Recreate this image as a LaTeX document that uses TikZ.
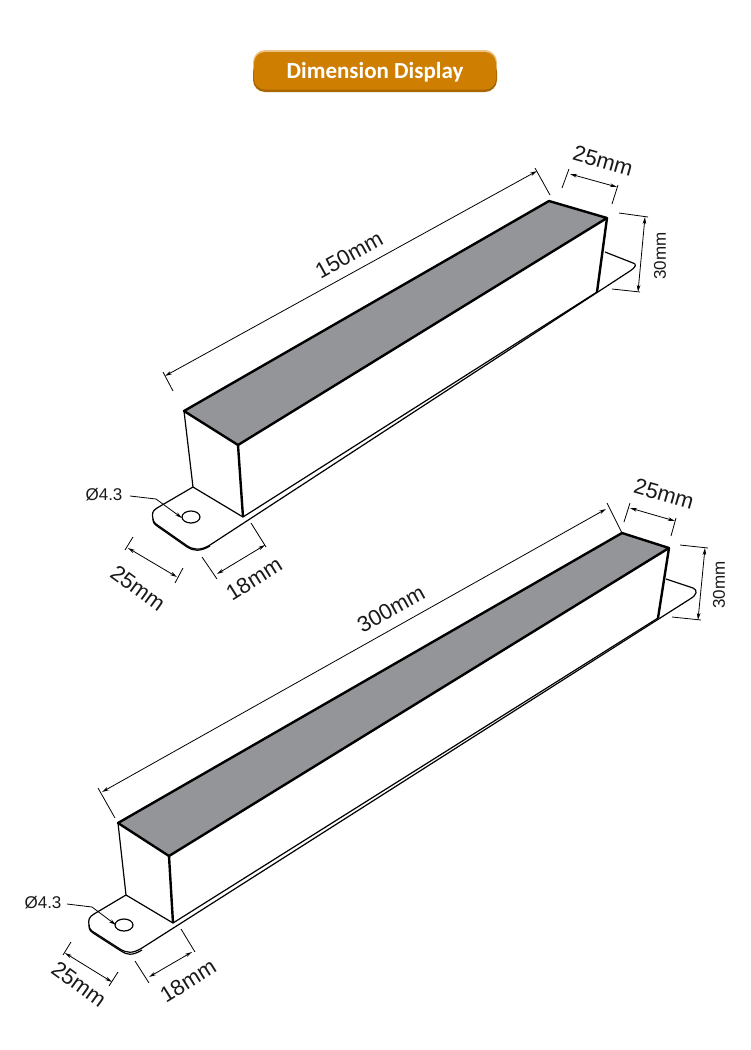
\documentclass[tikz,border=0pt]{standalone}
\usepackage{fontspec}
\setmainfont{Liberation Sans}
\newfontfamily\titlefont{Carlito}
\usetikzlibrary{arrows.meta}
\definecolor{btnfill}{HTML}{CE7E00}
\definecolor{btndark}{HTML}{A96700}
\definecolor{btnlight}{HTML}{EBC485}
\definecolor{topgrey}{HTML}{949598}
\tikzset{
  edge/.style={line width=1.2pt,line join=round},
  heavy/.style={line width=2.4pt,line join=round},
  dimline/.style={line width=0.8pt},
  dimarrow/.style={line width=0.8pt,{Stealth[length=7pt,width=3.6pt]}-{Stealth[length=7pt,width=3.6pt]}},
  dimtext/.style={inner sep=0pt,font=\fontsize{22}{23}\selectfont,text=black!90},
  smalltext/.style={inner sep=0pt,font=\fontsize{17}{18}\selectfont,text=black!90}
}
\begin{document}
\begin{tikzpicture}[x=1pt,y=-1pt]
\useasboundingbox (0,0) rectangle (750,1050);
% Title
\fill[btnlight,rounded corners=12pt] (253,50) rectangle (497,80);
\fill[btndark,rounded corners=12pt] (253,60) rectangle (497,92);
\fill[btnfill,rounded corners=11pt] (254,52) rectangle (496,89.5);
\node[inner sep=0pt,text=white] (title) at (375,72.5) {\titlefont\fontsize{23}{24}\selectfont\bfseries Dimension Display};
% Lamp 150
\fill[topgrey] (184,411) -- (549,201) -- (607,218) -- (238,445) -- cycle;
\draw[heavy] (238,445) -- (184,411) -- (549,201) -- (607,218) -- cycle;
\draw[heavy] (238,445) -- (243,517);
\draw[heavy] (607,218) -- (597,292);
\draw[edge] (184,411) -- (193,487) -- (243,517) -- (597,292);
\draw[edge] (193,487) -- (157,508) .. controls (152,511) and (152,514) .. (153,519)
  .. controls (153,521) and (154,522) .. (156,524) -- (186,545)
  .. controls (193,550) and (200,551) .. (210,545) -- (630,271)
  .. controls (636,267) and (637,264) .. (633,263) -- (605,252);
\draw[edge] (153,519) .. controls (153,523) and (155,525) .. (157,526) -- (187,547)
  .. controls (193,551) and (200,552) .. (210,546);
\draw[edge] (191,517) ellipse (9 and 6);
% Dimensions 150
\draw[dimline] (163,372) -- (173,391);
\draw[dimline] (535,168) -- (550,195);
\draw[dimarrow] (165,376) -- (537,171);
\node[dimtext,rotate=29] (len150) at (349,255) {150mm};
\draw[dimline] (569,169) -- (562,188);
\draw[dimline] (618,185) -- (612,204);
\draw[dimarrow] (570,174) -- (617,187);
\node[dimtext,rotate=-16] (wid150) at (603,161) {25mm};
\draw[dimline] (619,213) -- (648,217);
\draw[dimline] (612,289) -- (640,292);
\draw[dimarrow] (645,217) -- (638,292);
\node[smalltext,rotate=90] (hgt150) at (660,256) {30mm};
\draw[dimline] (133,537) -- (125,550);
\draw[dimline] (183,568) -- (175,583);
\draw[dimarrow] (128,548) -- (177,577);
\node[dimtext,rotate=-36] (flg150) at (138,588) {25mm};
\draw[dimline] (202,557) -- (217,579);
\draw[dimline] (251,523) -- (266,547);
\draw[dimarrow] (217,574) -- (265,545);
\node[dimtext,rotate=32] (brd150) at (254,579) {18mm};
\node[smalltext] (hole150) at (104,495) {Ø4.3};
\draw[dimline,-{Stealth[length=7pt,width=3.6pt]}] (130,496) -- (156,499) -- (182,518);
% Lamp 300
\fill[topgrey] (118,823) -- (622,533) -- (669,548) -- (169,856) -- cycle;
\draw[heavy] (169,856) -- (118,823) -- (622,533) -- (669,548) -- cycle;
\draw[heavy] (169,856) -- (173,923);
\draw[heavy] (669,548) -- (658,618);
\draw[edge] (118,823) -- (126,895) -- (173,923) -- (658,618);
\draw[edge] (126,895) -- (94,914) .. controls (89,917) and (88,920) .. (89,925)
  .. controls (89,928) and (90,929) .. (92,931) -- (120,949)
  .. controls (127,953) and (132,954) .. (142,948) -- (690,599)
  .. controls (697,595) and (698,590) .. (693,588) -- (666,579);
\draw[edge] (89,925) .. controls (89,930) and (91,932) .. (93,933) -- (121,951)
  .. controls (127,955) and (132,956) .. (142,950);
\draw[edge] (124,925) ellipse (9 and 6);
% Dimensions 300
\draw[dimline] (98,788) -- (115,818);
\draw[dimline] (607,503) -- (622,533);
\draw[dimarrow] (102,792) -- (606,509);
\node[dimtext,rotate=29] (len300) at (391,609) {300mm};
\draw[dimline] (630,503) -- (624,522);
\draw[dimline] (676,518) -- (671,536);
\draw[dimarrow] (630,508) -- (675,521);
\node[dimtext,rotate=-16] (wid300) at (664,494) {25mm};
\draw[dimline] (680,545) -- (708,548);
\draw[dimline] (672,617) -- (701,620);
\draw[dimarrow] (705,548) -- (698,620);
\node[smalltext,rotate=90] (hgt300) at (719,585) {30mm};
\draw[dimline] (71,942) -- (63,955);
\draw[dimline] (118,972) -- (109,986);
\draw[dimarrow] (65,953) -- (112,982);
\node[dimtext,rotate=-36] (flg300) at (79,984) {25mm};
\draw[dimline] (135,961) -- (149,983);
\draw[dimline] (181,929) -- (195,952);
\draw[dimarrow] (149,977) -- (192,952);
\node[dimtext,rotate=32] (brd300) at (188,981) {18mm};
\node[smalltext] (hole300) at (43,903) {Ø4.3};
\draw[dimline,-{Stealth[length=7pt,width=3.6pt]}] (67,904) -- (92,907) -- (116,925);
\end{tikzpicture}
\end{document}
